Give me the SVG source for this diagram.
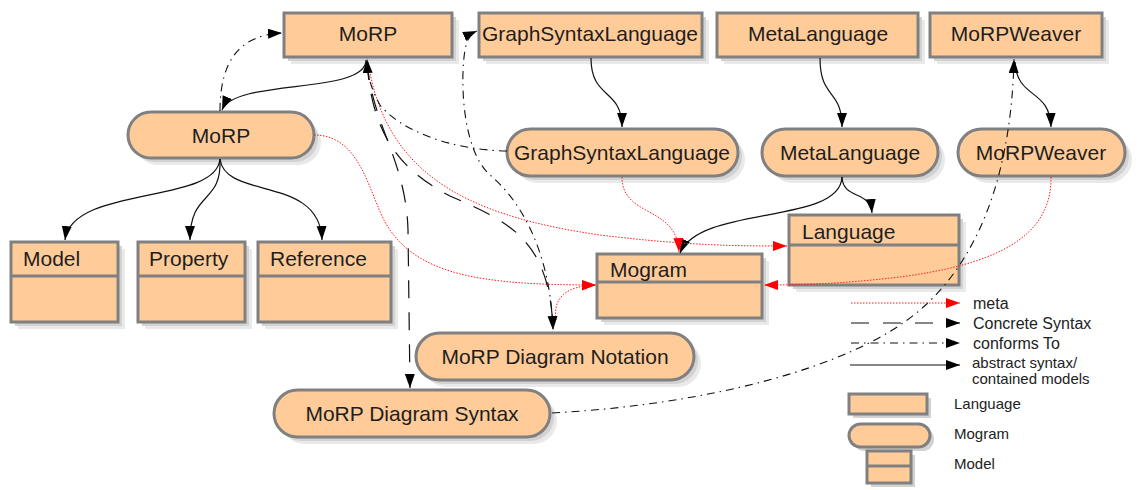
<svg xmlns="http://www.w3.org/2000/svg" width="1147" height="490" viewBox="0 0 1147 490">
<style>
.box{fill:#FFCC99;stroke:#808080;stroke-width:3}
.sh1{fill:#e9e9e9}
.sh2{fill:#d2d2d2}
.div{stroke:#808080;stroke-width:3;fill:none}
.t{font-family:"Liberation Sans",Arial,sans-serif;font-size:21px;fill:#1e1e1e}
.tc{text-anchor:middle}
.lt{font-family:"Liberation Sans",Arial,sans-serif;font-size:16px;fill:#222}
.ls{font-family:"Liberation Sans",Arial,sans-serif;font-size:15px;fill:#222}
.solid{fill:none;stroke:#111;stroke-width:1.2}
.meta{fill:none;stroke:#ff1a1a;stroke-width:1;stroke-dasharray:1.5 1.5}
.conc{fill:none;stroke:#111;stroke-width:1.2;stroke-dasharray:18 14}
.conf{fill:none;stroke:#111;stroke-width:1.1;stroke-dasharray:8 5 1.5 5}
</style>
<defs>
<marker id="ab" markerUnits="userSpaceOnUse" markerWidth="15" markerHeight="11" refX="14" refY="5" orient="auto"><path d="M0,0 L14,5 L0,10 z" fill="#000"/></marker>
<marker id="ar" markerUnits="userSpaceOnUse" markerWidth="15" markerHeight="11" refX="14" refY="5" orient="auto"><path d="M0,0 L14,5 L0,10 z" fill="#ff0000"/></marker>
</defs>

<g id="n_morp_lang">
<rect class="sh1" x="291" y="20" width="168" height="44"/><rect class="sh2" x="288" y="17" width="168" height="44"/>
<rect class="box" x="284" y="13" width="168" height="44"/>
<text class="t tc" x="368" y="41">MoRP</text>
</g>
<g id="n_gsl_lang">
<rect class="sh1" x="486" y="20" width="223" height="44"/><rect class="sh2" x="483" y="17" width="223" height="44"/>
<rect class="box" x="479" y="13" width="223" height="44"/>
<text class="t tc" x="590" y="41">GraphSyntaxLanguage</text>
</g>
<g id="n_meta_lang">
<rect class="sh1" x="724" y="20" width="201" height="44"/><rect class="sh2" x="721" y="17" width="201" height="44"/>
<rect class="box" x="717" y="13" width="201" height="44"/>
<text class="t tc" x="818" y="41">MetaLanguage</text>
</g>
<g id="n_weaver_lang">
<rect class="sh1" x="937" y="20" width="172" height="44"/><rect class="sh2" x="934" y="17" width="172" height="44"/>
<rect class="box" x="930" y="13" width="172" height="44"/>
<text class="t tc" x="1016" y="41">MoRPWeaver</text>
</g>

<g id="n_morp_mog">
<rect class="sh1" x="135" y="119" width="186" height="46" rx="23"/><rect class="sh2" x="132" y="116" width="186" height="46" rx="23"/>
<rect class="box" x="128" y="112" width="186" height="46" rx="23"/>
<text class="t tc" x="221" y="143">MoRP</text>
</g>
<g id="n_gsl_mog">
<rect class="sh1" x="514" y="136" width="231" height="47" rx="23.5"/><rect class="sh2" x="511" y="133" width="231" height="47" rx="23.5"/>
<rect class="box" x="507" y="129" width="231" height="47" rx="23.5"/>
<text class="t tc" x="622" y="160">GraphSyntaxLanguage</text>
</g>
<g id="n_meta_mog">
<rect class="sh1" x="769" y="136" width="176" height="47" rx="23.5"/><rect class="sh2" x="766" y="133" width="176" height="47" rx="23.5"/>
<rect class="box" x="762" y="129" width="176" height="47" rx="23.5"/>
<text class="t tc" x="850" y="160">MetaLanguage</text>
</g>
<g id="n_weaver_mog">
<rect class="sh1" x="965" y="136" width="167" height="47" rx="23.5"/><rect class="sh2" x="962" y="133" width="167" height="47" rx="23.5"/>
<rect class="box" x="958" y="129" width="167" height="47" rx="23.5"/>
<text class="t tc" x="1041" y="160">MoRPWeaver</text>
</g>

<g id="n_model">
<rect class="sh1" x="18" y="249" width="107" height="80"/><rect class="sh2" x="15" y="246" width="107" height="80"/>
<rect class="box" x="11" y="242" width="107" height="80"/>
<line class="div" x1="11" y1="276" x2="118" y2="276"/>
<text class="t" x="23" y="266">Model</text>
</g>
<g id="n_property">
<rect class="sh1" x="145" y="249" width="107" height="80"/><rect class="sh2" x="142" y="246" width="107" height="80"/>
<rect class="box" x="138" y="242" width="107" height="80"/>
<line class="div" x1="138" y1="276" x2="245" y2="276"/>
<text class="t" x="149" y="266">Property</text>
</g>
<g id="n_reference">
<rect class="sh1" x="265" y="249" width="133" height="80"/><rect class="sh2" x="262" y="246" width="133" height="80"/>
<rect class="box" x="258" y="242" width="133" height="80"/>
<line class="div" x1="258" y1="276" x2="391" y2="276"/>
<text class="t" x="270" y="266">Reference</text>
</g>
<g id="n_language">
<rect class="sh1" x="796" y="222" width="170" height="70"/><rect class="sh2" x="793" y="219" width="170" height="70"/>
<rect class="box" x="789" y="215" width="170" height="70"/>
<line class="div" x1="789" y1="245" x2="959" y2="245"/>
<text class="t" x="802" y="239">Language</text>
</g>
<g id="n_mogram">
<rect class="sh1" x="604" y="261" width="165" height="64"/><rect class="sh2" x="601" y="258" width="165" height="64"/>
<rect class="box" x="597" y="254" width="165" height="64"/>
<line class="div" x1="597" y1="282" x2="762" y2="282"/>
<text class="t" x="610" y="277">Mogram</text>
</g>
<g id="n_notation">
<rect class="sh1" x="423" y="340" width="278" height="47" rx="23.5"/><rect class="sh2" x="420" y="337" width="278" height="47" rx="23.5"/>
<rect class="box" x="416" y="333" width="278" height="47" rx="23.5"/>
<text class="t tc" x="555" y="364">MoRP Diagram Notation</text>
</g>
<g id="n_syntax">
<rect class="sh1" x="281" y="397" width="276" height="47" rx="23.5"/><rect class="sh2" x="278" y="394" width="276" height="47" rx="23.5"/>
<rect class="box" x="274" y="390" width="276" height="47" rx="23.5"/>
<text class="t tc" x="412" y="421">MoRP Diagram Syntax</text>
</g>

<g id="connectors">
<path class="solid" d="M366,60 C366,95 235,78 222,110" marker-end="url(#ab)"/>
<path class="solid" d="M591,58 C591,100 622,88 622,127" marker-end="url(#ab)"/>
<path class="solid" d="M820,58 C820,100 842,88 842,127" marker-end="url(#ab)"/>
<path class="solid" d="M1015,62 C1017,100 1050,88 1051,127" marker-end="url(#ab)"/>
<path class="solid" d="M220,159 C216,205 72,185 65,240" marker-end="url(#ab)"/>
<path class="solid" d="M220,159 C222,205 190,190 190,240" marker-end="url(#ab)"/>
<path class="solid" d="M220,159 C225,200 320,175 322,240" marker-end="url(#ab)"/>
<path class="solid" d="M842,177 C840,225 700,205 680,253" marker-end="url(#ab)"/>
<path class="solid" d="M842,177 C843,200 870,190 872,213" marker-end="url(#ab)"/>

<path class="meta" d="M314,135 C360,135 368,190 385,222 C415,275 480,285 596,285" marker-end="url(#ar)"/>
<path class="meta" d="M622,177 C622,218 677,205 679,252" marker-end="url(#ar)"/>
<path class="meta" d="M368,62 C385,170 460,215 600,235 C690,246 740,246 787,246" marker-end="url(#ar)"/>
<path class="meta" d="M1051,177 C1052,240 990,265 900,277 C840,284 800,285 764,285" marker-end="url(#ar)"/>
<path class="meta" d="M556,320 C553,298 565,286 596,285" marker-end="url(#ar)"/>

<path class="conc" d="M367,62 C372,125 406,160 408,230 L410,388" marker-end="url(#ab)"/>
<path class="conc" d="M367,62 C372,135 400,170 450,196 C510,222 550,240 553,330" marker-end="url(#ab)"/>

<path class="conf" d="M220,111 C220,60 240,35 282,33" marker-end="url(#ab)"/>
<path class="conf" d="M507,151 C450,150 400,130 380,105 C372,90 368,80 367,59" marker-end="url(#ab)"/>
<path class="conf" d="M553,329 C550,250 520,200 490,175 C462,150 460,80 465,50 C467,40 470,34 477,31" marker-end="url(#ab)"/>
<path class="conf" d="M552,413 C700,405 850,370 920,310 C990,250 1012,150 1014,59" marker-end="url(#ab)"/>
</g>

<g id="legend">
<path class="meta" d="M851,303 L960,303" marker-end="url(#ar)"/>
<text class="lt" x="973" y="309">meta</text>
<path class="conc" d="M851,323 L960,323" marker-end="url(#ab)"/>
<text class="lt" x="973" y="329">Concrete Syntax</text>
<path class="conf" d="M851,343 L960,343" marker-end="url(#ab)"/>
<text class="lt" x="973" y="349">conforms To</text>
<path class="solid" d="M850,365 L960,365" marker-end="url(#ab)"/>
<text class="ls" x="972" y="368">abstract syntax/</text>
<text class="ls" x="972" y="384">contained models</text>
<rect class="sh2" x="853" y="398" width="78" height="20"/>
<rect class="box" x="849" y="394" width="78" height="20"/>
<text class="ls" x="954" y="409">Language</text>
<rect class="sh2" x="853" y="428" width="81" height="23" rx="11.5"/>
<rect class="box" x="849" y="424" width="81" height="23" rx="11.5"/>
<text class="ls" x="954" y="439">Mogram</text>
<rect class="sh2" x="871" y="455" width="44" height="32"/>
<rect class="box" x="867" y="451" width="44" height="32"/>
<line class="div" x1="867" y1="466" x2="911" y2="466"/>
<text class="ls" x="954" y="469">Model</text>
</g>
</svg>
